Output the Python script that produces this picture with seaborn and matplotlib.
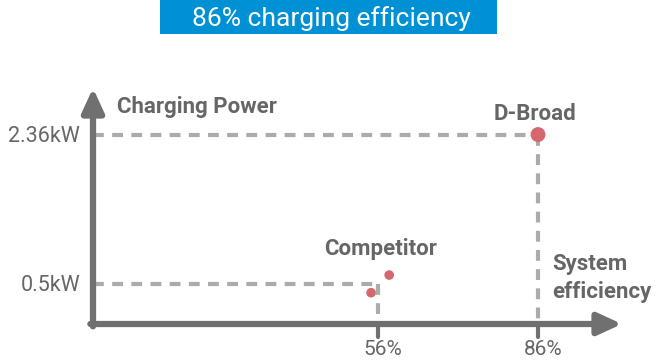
import matplotlib
matplotlib.use("Agg")
import matplotlib.pyplot as plt
from matplotlib.patches import Rectangle
import seaborn as sns
import pandas as pd

# data
names = ["D-Broad", "Competitor", "Competitor"]
efficiency = [86, 54.7, 58.1]          # %
power = [2.36, 0.39, 0.61]             # kW
sizes = [115, 48, 48]
ref_eff = [56, 86]
ref_power = [0.5, 2.36]
xtick_labels = ["56%", "86%"]
ytick_labels = ["0.5kW", "2.36kW"]
title = "86% charging efficiency"

sns.set_theme(style="white")
plt.rcParams['font.family'] = ['Roboto', 'DejaVu Sans']

W, H = 659, 361
fig = plt.figure(figsize=(W / 100, H / 100), dpi=100)
# axes box in pixel space: left 93, right 622, top 88, bottom 324
ax = fig.add_axes([93 / W, (H - 324) / H, (622 - 93) / W, (324 - 88) / H])
xmin, xmax = 2.56, 101.75
ymin, ymax = 0.0, 2.94
ax.set_xlim(xmin, xmax)
ax.set_ylim(ymin, ymax)
for s in ax.spines.values():
    s.set_visible(False)
ax.set_xticks([])
ax.set_yticks([])
ax.patch.set_alpha(0)

axis_col = "#707070"
dash_col = "#ababab"
text_col = "#666666"
pt_col = "#d4686c"


def fy(ypx):
    return 1 - ypx / H


# dashed guide lines
for e, p in zip(ref_eff, ref_power):
    ax.plot([xmin, e], [p, p], color=dash_col, lw=3, ls=(0, (2.6, 2.0)), solid_capstyle="butt", clip_on=False, zorder=1)
    ax.plot([e, e], [p, ymin], color=dash_col, lw=3, ls=(0, (2.6, 2.0)), solid_capstyle="butt", clip_on=False, zorder=1)

# axes arrows
arrow = dict(arrowstyle="-|>,head_length=1.2,head_width=0.55", color=axis_col, lw=4.5, shrinkA=0, shrinkB=0)
ax.annotate("", xy=(1, 0), xytext=(-0.005, 0), xycoords="axes fraction", textcoords="axes fraction", arrowprops=arrow)
ax.annotate("", xy=(0, 1), xytext=(0, -0.01), xycoords="axes fraction", textcoords="axes fraction", arrowprops=arrow)

# ticks on x axis
for e, lab in zip(ref_eff, xtick_labels):
    ax.plot([e, e], [0, -0.16], color=axis_col, lw=3, clip_on=False, zorder=2)
    ax.text(e + 0.9, -0.385, lab, ha="center", va="baseline", fontsize=15, color=text_col)
for p, lab in zip(ref_power, ytick_labels):
    ax.text(xmin - 2.4, p - 0.09, lab, ha="right", va="baseline", fontsize=15.5, color=text_col)

# points
df = pd.DataFrame({"name": names, "eff": efficiency, "power": power, "size": sizes})
sns.scatterplot(data=df, x="eff", y="power", size="size", sizes=(48, 115), color=pt_col,
                edgecolor="none", legend=False, ax=ax, zorder=3, clip_on=False)
ax.set_xlabel("")
ax.set_ylabel("")

# labels (figure pixel positions)
bold = dict(fontsize=16, fontweight="bold", color=text_col)
fig.text(535 / W, fy(120), "D-Broad", ha="center", va="baseline", **bold)
fig.text(381 / W, fy(255), "Competitor", ha="center", va="baseline", **bold)
fig.text(552 / W, fy(270), "System", ha="left", va="baseline", **bold)
fig.text(552 / W, fy(298), "efficiency", ha="left", va="baseline", **bold)
fig.text(117 / W, fy(113), "Charging Power", ha="left", va="baseline", **bold)

# title banner
fig.patches.append(Rectangle((160 / W, fy(34)), (497 - 160) / W, 34 / H, transform=fig.transFigure,
                             facecolor="#0091d5", edgecolor="none", zorder=0))
fig.text(331 / W, fy(26), title, ha="center", va="baseline", fontsize=19, color="white")

fig.savefig("out.png", dpi=100)
